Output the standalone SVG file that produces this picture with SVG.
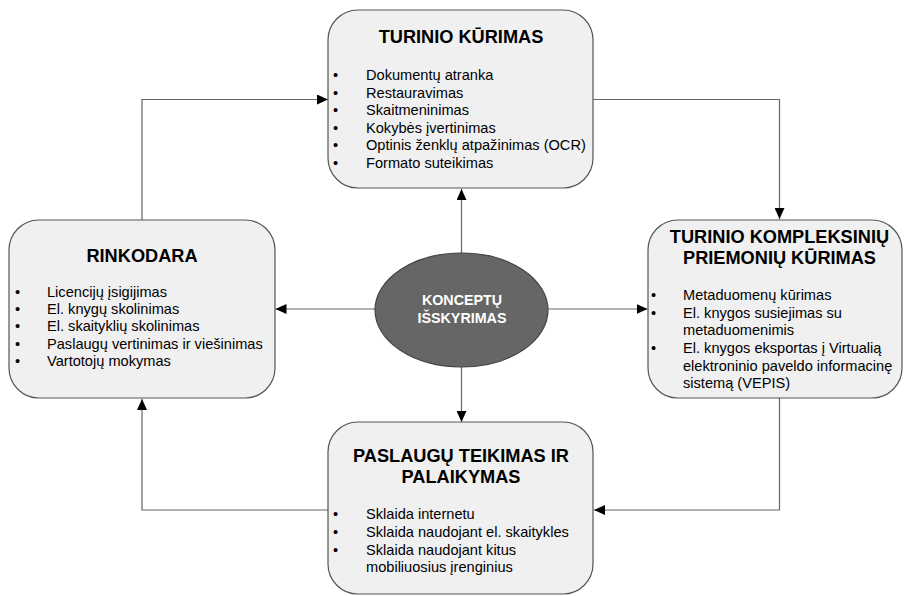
<svg xmlns="http://www.w3.org/2000/svg" width="904" height="596" viewBox="0 0 904 596">
<defs>
<style>
.box{fill:#f0f0f0;stroke:#555;stroke-width:1.2}
.title{font-family:"Liberation Sans",Arial,sans-serif;font-weight:bold;font-size:18.2px;fill:#000;text-anchor:middle}
.body{font-family:"Liberation Sans",Arial,sans-serif;font-size:14.6px;fill:#000}
.bul{font-family:"Liberation Sans",Arial,sans-serif;font-size:14.6px;fill:#000}
.conn{fill:none;stroke:#666;stroke-width:1.2}
.ctext{font-family:"Liberation Sans",Arial,sans-serif;font-weight:bold;font-size:14.3px;fill:#fff;text-anchor:middle}
</style>
<marker id="arr" markerUnits="userSpaceOnUse" markerWidth="11" markerHeight="10" refX="11" refY="5" orient="auto">
<path d="M0,0 L11,5 L0,10 z" fill="#000"/>
</marker>
</defs>
<rect width="904" height="596" fill="#fff"/>

<g id="connectors">
<polyline class="conn" points="142,220 142,99.5 328,99.5" marker-end="url(#arr)"/>
<polyline class="conn" points="593,99.5 779.5,99.5 779.5,219" marker-end="url(#arr)"/>
<polyline class="conn" points="779.5,398 779.5,510 594,510" marker-end="url(#arr)"/>
<polyline class="conn" points="328,510 142,510 142,399" marker-end="url(#arr)"/>
<line class="conn" x1="461.5" y1="253" x2="461.5" y2="189" marker-end="url(#arr)"/>
<line class="conn" x1="461.5" y1="367" x2="461.5" y2="422" marker-end="url(#arr)"/>
<line class="conn" x1="375" y1="309" x2="275.5" y2="309" marker-end="url(#arr)"/>
<line class="conn" x1="548" y1="309" x2="647.5" y2="309" marker-end="url(#arr)"/>
</g>

<g id="turinio-kurimas">
<rect class="box" x="328" y="10" width="265" height="178" rx="30" ry="30"/>
<text class="title" x="461" y="43">TURINIO KŪRIMAS</text>
<g class="bul">
<text x="333" y="80">•</text><text x="333" y="97.5">•</text><text x="333" y="115">•</text><text x="333" y="132.5">•</text><text x="333" y="150">•</text><text x="333" y="168">•</text>
</g>
<g class="body">
<text x="366" y="80">Dokumentų atranka</text>
<text x="366" y="97.5">Restauravimas</text>
<text x="366" y="115">Skaitmeninimas</text>
<text x="366" y="132.5">Kokybės įvertinimas</text>
<text x="366" y="150">Optinis ženklų atpažinimas (OCR)</text>
<text x="366" y="168">Formato suteikimas</text>
</g>
</g>

<g id="rinkodara">
<rect class="box" x="9" y="220" width="266" height="178" rx="30" ry="30"/>
<text class="title" x="142" y="262">RINKODARA</text>
<g class="bul">
<text x="15" y="297">•</text><text x="15" y="314">•</text><text x="15" y="331">•</text><text x="15" y="348.5">•</text><text x="15" y="366">•</text>
</g>
<g class="body">
<text x="47" y="297">Licencijų įsigijimas</text>
<text x="47" y="314">El. knygų skolinimas</text>
<text x="47" y="331">El. skaityklių skolinimas</text>
<text x="47" y="348.5">Paslaugų vertinimas ir viešinimas</text>
<text x="47" y="366">Vartotojų mokymas</text>
</g>
</g>

<g id="kompleksines-priemones">
<rect class="box" x="648" y="220" width="254" height="178" rx="30" ry="30"/>
<text class="title" x="779.5" y="243">TURINIO KOMPLEKSINIŲ</text>
<text class="title" x="779.5" y="263.5">PRIEMONIŲ KŪRIMAS</text>
<g class="bul">
<text x="651" y="300">•</text><text x="651" y="317.5">•</text><text x="651" y="353">•</text>
</g>
<g class="body">
<text x="683" y="300">Metaduomenų kūrimas</text>
<text x="683" y="317.5">El. knygos susiejimas su</text>
<text x="683" y="335">metaduomenimis</text>
<text x="683" y="353">El. knygos eksportas į Virtualią</text>
<text x="683" y="370.5">elektroninio paveldo informacinę</text>
<text x="683" y="388">sistemą (VEPIS)</text>
</g>
</g>

<g id="paslaugu-teikimas">
<rect class="box" x="328" y="422" width="265" height="172" rx="30" ry="30"/>
<text class="title" x="461" y="462">PASLAUGŲ TEIKIMAS IR</text>
<text class="title" x="461" y="482.5">PALAIKYMAS</text>
<g class="bul">
<text x="333" y="519">•</text><text x="333" y="537">•</text><text x="333" y="554.5">•</text>
</g>
<g class="body">
<text x="366" y="519">Sklaida internetu</text>
<text x="366" y="537">Sklaida naudojant el. skaitykles</text>
<text x="366" y="554.5">Sklaida naudojant kitus</text>
<text x="366" y="572">mobiliuosius įrenginius</text>
</g>
</g>

<g id="konceptu-isskyrimas">
<ellipse cx="461.5" cy="310" rx="86.5" ry="57" fill="#666" stroke="#444" stroke-width="1.2"/>
<text class="ctext" x="462" y="305">KONCEPTŲ</text>
<text class="ctext" x="462" y="323">IŠSKYRIMAS</text>
</g>
</svg>
